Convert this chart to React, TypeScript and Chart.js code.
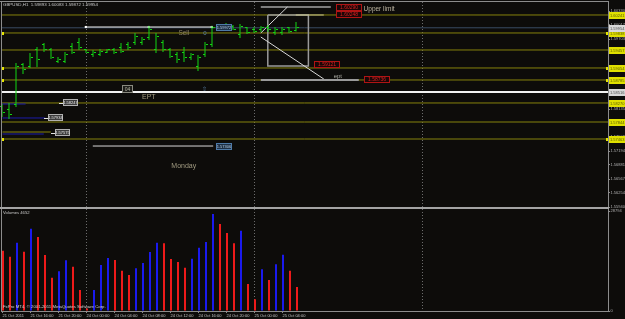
import React, { useEffect, useRef } from 'react';
import { Chart, registerables } from 'chart.js';

Chart.register(...registerables);

// ---------- data ----------
const headerText = 'GBPUSD,H1  1.59893 1.60083 1.59872 1.59954';
const volumeTitle = 'Volumes 4652';
const copyrightText = 'FxPro MT4, \u00A9 2001-2011 MetaQuotes Software Corp.';

const timeLabels = ['21 Oct 2011', '21 Oct 16:00', '21 Oct 20:00', '24 Oct 00:00', '24 Oct 04:00', '24 Oct 08:00', '24 Oct 12:00', '24 Oct 16:00', '24 Oct 20:00', '25 Oct 00:00', '25 Oct 04:00'];
const timeLabelBars = [0, 4, 8, 12, 16, 20, 24, 28, 32, 36, 40];
const daySeparators = [12, 36, 60];

const opens = [1.58180, 1.58113, 1.58225, 1.59121, 1.59098, 1.59457, 1.59569, 1.59457, 1.59210, 1.59210, 1.59546, 1.59636, 1.59457, 1.59345, 1.59367, 1.59412, 1.59457, 1.59524, 1.59591, 1.59614, 1.59614, 1.59726, 1.59457, 1.59636, 1.59457, 1.59367, 1.59412, 1.59278, 1.59098, 1.59345, 1.59569, 1.60017, 1.60039, 1.59994, 1.59793, 1.59950, 1.59927, 1.59905, 1.59972, 1.59860, 1.59838, 1.59950, 1.59893];
const highs = [1.58247, 1.58270, 1.59166, 1.59166, 1.59390, 1.59524, 1.59614, 1.59502, 1.59300, 1.59412, 1.59614, 1.59726, 1.59479, 1.59457, 1.59479, 1.59479, 1.59502, 1.59614, 1.59636, 1.59838, 1.59748, 1.59994, 1.59838, 1.59681, 1.59502, 1.59412, 1.59524, 1.59390, 1.59345, 1.59636, 1.59994, 1.60039, 1.60062, 1.60017, 1.60039, 1.59972, 1.59972, 1.59994, 1.60017, 1.59972, 1.59972, 1.59972, 1.60083];
const lows = [1.57956, 1.57911, 1.58180, 1.58919, 1.59054, 1.59076, 1.59412, 1.59255, 1.59166, 1.59166, 1.59367, 1.59457, 1.59390, 1.59300, 1.59322, 1.59390, 1.59367, 1.59390, 1.59457, 1.59569, 1.59569, 1.59681, 1.59390, 1.59412, 1.59278, 1.59166, 1.59188, 1.59233, 1.58986, 1.59300, 1.59524, 1.59927, 1.59950, 1.59905, 1.59726, 1.59815, 1.59838, 1.59860, 1.59860, 1.59793, 1.59793, 1.59838, 1.59872];
const closes = [1.58046, 1.58001, 1.59098, 1.59009, 1.59300, 1.59233, 1.59457, 1.59300, 1.59255, 1.59367, 1.59390, 1.59502, 1.59412, 1.59412, 1.59434, 1.59457, 1.59412, 1.59434, 1.59524, 1.59770, 1.59703, 1.59927, 1.59770, 1.59479, 1.59322, 1.59233, 1.59278, 1.59345, 1.59278, 1.59569, 1.59950, 1.59950, 1.59972, 1.59927, 1.59994, 1.59860, 1.59882, 1.59950, 1.59905, 1.59927, 1.59927, 1.59882, 1.59954];
const volumes = [17360, 15640, 19670, 17080, 23700, 21310, 16130, 9590, 11430, 14600, 12760, 6050, 700, 6060, 13250, 15260, 14690, 11600, 10370, 12300, 13820, 16990, 19670, 19490, 14970, 14110, 12470, 15060, 18230, 19870, 27930, 25050, 22460, 19490, 23120, 7770, 3370, 12010, 8930, 13450, 16210, 11600, 6910];

const priceTicks = [1.55940, 1.56254, 1.56567, 1.56881, 1.57194, 1.57508, 1.57822, 1.58135, 1.58449, 1.58762, 1.59076, 1.59390, 1.59703, 1.60017, 1.60330];
const volumeTicks = [0, 28794];

const levelPrices = [1.60241, 1.59838, 1.59457, 1.59054, 1.58785, 1.58270, 1.57844, 1.57463];
const anchoredLevels = [1.59838, 1.59054, 1.58785, 1.57463];
const eptLevel = 1.58516;
const bidPrice = 1.59954;

const sellLinePoints = [[11.9, 1.59972], [20.9, 1.59972], [29.9, 1.59972]];
const mondayLinePoints = [[12.9, 1.57306], [30.1, 1.57306]];
const blueLines = [[[-0.3, 1.58247], [3.3, 1.58247]], [[0, 1.57934], [6.1, 1.57934]], [[0, 1.57575], [5.9, 1.57575]]];
const oliveShortLine = [[0, 1.57620], [6.9, 1.57620]];
const upperLimitLine = [[36.9, 1.60420], [46.9, 1.60420]];
const fanUpLine = [[36.9, 1.59838], [40.7, 1.60420]];
const fanDownLine = [[36.9, 1.59748], [45.9, 1.58807]];
const boxCorners = [[37.9, 1.60241], [43.7, 1.60241], [43.7, 1.59098], [37.9, 1.59098], [37.9, 1.60241]];
const limitTopLine = [[41.9, 1.60241], [45.9, 1.60241]];
const eptShortLine = [[36.9, 1.58785], [50.9, 1.58785]];

const chartTexts = [
  { text: 'Sell', x: 25.9, y: 1.59838, kind: 'sell' },
  { text: '0', x: 28.9, y: 1.59838, kind: 'zero' },
  { text: 'EPT', x: 20.9, y: 1.58404, kind: 'big' },
  { text: 'Monday', x: 25.9, y: 1.56858, kind: 'big' },
  { text: '\u21E7', x: 28.9, y: 1.58572, kind: 'zero' },
  { text: 'Upper limit', x: 53.8, y: 1.60375, kind: 'upper' },
  { text: 'ept', x: 47.9, y: 1.58874, kind: 'ept' },
];

const priceTags = [
  { text: '1.60290', x: 49.5, y: 1.60409, kind: 'red' },
  { text: '1.60248', x: 49.5, y: 1.60241, kind: 'red' },
  { text: '1.59121', x: 46.4, y: 1.59121, kind: 'red' },
  { text: '1.58736', x: 53.5, y: 1.58785, kind: 'red' },
  { text: '1.59972', x: 31.6, y: 1.59972, kind: 'steel' },
  { text: '1.57306', x: 31.6, y: 1.57306, kind: 'steel' },
  { text: '1.58247', x: 9.7, y: 1.58270, kind: 'grey' },
  { text: '1.57934', x: 7.6, y: 1.57934, kind: 'grey' },
  { text: '1.57575', x: 8.6, y: 1.57598, kind: 'grey' },
  { text: '04', x: 17.9, y: 1.58583, kind: 'small' },
];

// ---------- styles ----------
const FONT = '"Liberation Sans", Arial, sans-serif';
const BG = '#0d0c0a';
const FRAME = '#8c8c8c';
const CANDLE = '#12d612';
const LEVEL = '#86820c';
const VOL_UP = '#1a1aee';
const VOL_DOWN = '#ee1a1a';

const tagStyles: Record<string, any> = {
  red: { w: 26, h: 7, bg: '#1a0707', border: '#b01414', fg: '#d82020', size: 5 },
  steel: { w: 16, h: 7, bg: '#1d3046', border: '#4e7aa8', fg: '#b8d0e8', size: 4 },
  grey: { w: 15, h: 7, bg: '#3c3c3c', border: '#b0b0b0', fg: '#e8e8e8', size: 4, lead: true },
  small: { w: 11, h: 8, bg: '#1e1e1a', border: '#8a8a80', fg: '#b0b0a0', size: 5 },
};
const textStyles: Record<string, any> = {
  sell: { color: '#8c8266', size: 6.5 },
  zero: { color: '#5a80a8', size: 6 },
  big: { color: '#a09a80', size: 7 },
  upper: { color: '#bcb4a0', size: 6.5 },
  ept: { color: '#a8a8a0', size: 6 },
};

const pts = (arr: number[][]) => arr.map(([x, y]) => ({ x, y }));

function lineDs(points: number[][], color: string, width: number, order: number, extra: any = {}) {
  return {
    type: 'line',
    data: pts(points),
    borderColor: color,
    borderWidth: width,
    pointRadius: 0,
    fill: false,
    tension: 0,
    xAxisID: 'x',
    yAxisID: 'y',
    order,
    ...extra,
  };
}

function drawTag(ctx: CanvasRenderingContext2D, text: string, cx: number, cy: number, st: any) {
  const x0 = Math.round(cx - st.w / 2);
  const y0 = Math.round(cy - st.h / 2);
  if (st.lead) {
    ctx.fillStyle = '#e0e0e0';
    ctx.fillRect(x0 - 4, Math.round(cy), 4, 1);
  }
  ctx.fillStyle = st.bg;
  ctx.fillRect(x0, y0, st.w, st.h);
  ctx.strokeStyle = st.border;
  ctx.lineWidth = 1;
  ctx.strokeRect(x0 + 0.5, y0 + 0.5, st.w - 1, st.h - 1);
  ctx.fillStyle = st.fg;
  ctx.font = `${st.size}px ${FONT}`;
  ctx.textAlign = 'center';
  ctx.textBaseline = 'middle';
  ctx.fillText(text, x0 + st.w / 2, y0 + st.h / 2 + 0.5);
}

const mtPlugin = {
  id: 'mt4look',
  beforeDraw(chart: any) {
    const ctx = chart.ctx;
    ctx.save();
    ctx.fillStyle = BG;
    ctx.fillRect(0, 0, chart.width, chart.height);
    ctx.restore();
  },
  beforeDatasetsDraw(chart: any) {
    const ctx = chart.ctx;
    const { top, bottom } = chart.chartArea;
    const xv = chart.scales.xv;
    ctx.save();
    ctx.strokeStyle = '#6c6c6c';
    ctx.lineWidth = 1;
    ctx.setLineDash([1, 2]);
    daySeparators.forEach((s) => {
      const px = Math.round(xv.getPixelForValue(s)) + 0.5;
      ctx.beginPath();
      ctx.moveTo(px, top);
      ctx.lineTo(px, bottom);
      ctx.stroke();
    });
    ctx.restore();
  },
  afterDatasetsDraw(chart: any) {
    const ctx = chart.ctx;
    const x = chart.scales.x;
    const y = chart.scales.y;
    ctx.save();
    ctx.fillStyle = CANDLE;
    opens.forEach((o, i) => {
      const xc = Math.round(x.getPixelForValue(i) - 0.5);
      ctx.fillRect(xc - 2, Math.round(y.getPixelForValue(o) - 0.5), 2, 1);
      ctx.fillRect(xc + 1, Math.round(y.getPixelForValue(closes[i]) - 0.5), 2, 1);
    });
    chartTexts.forEach((t) => {
      const st = textStyles[t.kind];
      ctx.fillStyle = st.color;
      ctx.font = `${st.size}px ${FONT}`;
      ctx.textAlign = 'center';
      ctx.textBaseline = 'middle';
      ctx.fillText(t.text, x.getPixelForValue(t.x), y.getPixelForValue(t.y));
    });
    priceTags.forEach((t) => {
      drawTag(ctx, t.text, x.getPixelForValue(t.x), y.getPixelForValue(t.y), tagStyles[t.kind]);
    });
    ctx.fillStyle = '#e4e400';
    const xv = chart.scales.xv;
    anchoredLevels.forEach((p) => {
      const yc = Math.round(y.getPixelForValue(p));
      ctx.fillRect(Math.round(xv.getPixelForValue(0)) - 1, yc - 1, 3, 3);
      ctx.fillRect(chart.chartArea.right - 2, yc - 1, 3, 3);
    });
    ctx.restore();
  },
  afterDraw(chart: any) {
    const ctx = chart.ctx;
    const { left, right, top, bottom } = chart.chartArea;
    const y = chart.scales.y;
    const yv = chart.scales.yv;
    ctx.save();
    ctx.fillStyle = FRAME;
    ctx.fillRect(0, top - 1, right + 1, 1);
    ctx.fillRect(left, top - 1, 1, bottom - top + 1);
    ctx.fillRect(right, top - 1, 1, bottom - top + 1);
    ctx.fillRect(left, bottom, right - left + 1, 1);
    ctx.fillStyle = '#a4a4a4';
    ctx.fillRect(0, Math.round(yv.top), right + 1, 2);

    const axisBox = (p: number, bg: string, fg: string) => {
      const yc = Math.round(y.getPixelForValue(p));
      ctx.fillStyle = bg;
      ctx.fillRect(right + 1, yc - 3, chart.width - right - 1, 7);
      ctx.fillStyle = fg;
      ctx.font = `4px ${FONT}`;
      ctx.textAlign = 'left';
      ctx.textBaseline = 'middle';
      ctx.fillText(p.toFixed(5), right + 2, yc + 0.5);
    };
    levelPrices.forEach((p) => axisBox(p, '#e0e000', '#5c5c00'));
    axisBox(bidPrice, '#d8d8d8', '#505050');
    axisBox(eptLevel, '#d8d8d8', '#505050');

    ctx.textAlign = 'left';
    ctx.textBaseline = 'middle';
    ctx.fillStyle = '#c8c8c8';
    ctx.font = `4.4px ${FONT}`;
    ctx.fillText(headerText, 3, 5);
    ctx.font = `4.2px ${FONT}`;
    ctx.fillText(volumeTitle, 3, 213);
    ctx.fillStyle = '#d0d0d0';
    ctx.font = `4.3px ${FONT}`;
    ctx.fillText(copyrightText, 3, 307);
    ctx.restore();
  },
};

export default function App() {
  const ref = useRef<HTMLCanvasElement>(null);
  useEffect(() => {
    document.body.style.margin = '0';
    document.body.style.background = BG;
    const volColors = volumes.map((v, i) => (i > 0 && v > volumes[i - 1] ? VOL_UP : VOL_DOWN));

    const datasets: any[] = [
      ...levelPrices.map((p) => lineDs([[-1, p], [90, p]], LEVEL, 1, 20)),
      lineDs([[-1, bidPrice], [90, bidPrice]], '#3a4c64', 1, 19),
      lineDs([[-1, eptLevel], [90, eptLevel]], '#f2f2f2', 2, 18),
      lineDs(sellLinePoints, '#f2f2f2', 1, 17, { pointRadius: 1.5, pointStyle: 'rect', pointBackgroundColor: '#ffffff', pointBorderWidth: 0 }),
      lineDs(mondayLinePoints, '#d8d8d8', 1, 17),
      ...blueLines.map((l) => lineDs(l, '#1c1ca8', 1, 17)),
      lineDs(oliveShortLine, LEVEL, 1, 17),
      lineDs(upperLimitLine, '#eeeeee', 1, 16),
      lineDs(fanUpLine, '#d8d8d8', 1, 16),
      lineDs(fanDownLine, '#d8d8d8', 1, 16),
      lineDs(boxCorners, '#9a9a9a', 1.5, 16),
      lineDs(limitTopLine, '#c8c490', 1, 15),
      lineDs(eptShortLine, '#9a9a9a', 2, 15),
      {
        type: 'bar',
        data: volumes.map((v, i) => ({ x: i, y: v })),
        backgroundColor: volColors,
        borderWidth: 0,
        barThickness: 2,
        inflateAmount: 0,
        xAxisID: 'xv',
        yAxisID: 'yv',
        order: 5,
      },
      {
        type: 'bar',
        data: highs.map((h, i) => ({ x: i, y: [lows[i], h] })),
        backgroundColor: CANDLE,
        borderWidth: 0,
        barThickness: 1,
        inflateAmount: 0,
        xAxisID: 'x',
        yAxisID: 'y',
        order: 1,
      },
    ];

    const zeroPad = (s: any) => {
      s.paddingTop = 0;
      s.paddingBottom = 0;
      s.paddingLeft = 0;
      s.paddingRight = 0;
    };
    const tickFont = { size: 4, family: FONT };

    const chart = new Chart(ref.current as HTMLCanvasElement, {
      type: 'bar',
      data: { datasets },
      options: {
        animation: false,
        responsive: false,
        devicePixelRatio: 1,
        events: [],
        layout: { autoPadding: false, padding: { left: 1, top: 2, right: 0, bottom: 0 } },
        plugins: { legend: { display: false }, tooltip: { enabled: false } },
        scales: {
          x: {
            type: 'linear',
            position: 'bottom',
            min: -1.5 / 7,
            max: -1.5 / 7 + 607 / 7,
            offset: false,
            grid: { display: true, drawOnChartArea: false, drawTicks: true, tickLength: 2, color: FRAME, offset: false },
            border: { display: false },
            ticks: {
              color: '#c4c4c4',
              font: tickFont,
              padding: 0.5,
              align: 'start',
              maxRotation: 0,
              minRotation: 0,
              autoSkip: false,
              callback: (_v: any, i: number) => timeLabels[i] ?? '',
            },
            afterBuildTicks: (s: any) => {
              s.ticks = timeLabelBars.map((v) => ({ value: v }));
            },
            afterFit: (s: any) => {
              s.height = 8;
              zeroPad(s);
            },
          },
          xv: {
            type: 'linear',
            display: false,
            min: -1 / 7,
            max: -1 / 7 + 607 / 7,
            offset: false,
          },
          y: {
            type: 'linear',
            position: 'right',
            stack: 'panes',
            stackWeight: 205,
            min: 1.5594,
            max: 1.60532,
            grid: { display: true, drawOnChartArea: false, drawTicks: true, tickLength: 2, color: FRAME },
            border: { display: false },
            ticks: {
              color: '#b0b0b0',
              font: tickFont,
              padding: 0.5,
              autoSkip: false,
              callback: (v: any) => Number(v).toFixed(5),
            },
            afterBuildTicks: (s: any) => {
              s.ticks = priceTicks.map((v) => ({ value: v }));
            },
            afterFit: (s: any) => {
              s.width = 17;
              zeroPad(s);
            },
          },
          yv: {
            type: 'linear',
            position: 'right',
            stack: 'panes',
            stackWeight: 104,
            min: 0,
            max: 29950,
            grid: { display: true, drawOnChartArea: false, drawTicks: true, tickLength: 2, color: FRAME },
            border: { display: false },
            ticks: {
              color: '#b0b0b0',
              font: tickFont,
              padding: 0.5,
              autoSkip: false,
              callback: (v: any) => String(v),
            },
            afterBuildTicks: (s: any) => {
              s.ticks = volumeTicks.map((v) => ({ value: v }));
            },
            afterFit: (s: any) => {
              s.width = 17;
              zeroPad(s);
            },
          },
        },
      } as any,
      plugins: [mtPlugin as any],
    } as any);
    return () => chart.destroy();
  }, []);
  return <canvas ref={ref} width={625} height={319} style={{ display: 'block', width: 625, height: 319 }} />;
}
